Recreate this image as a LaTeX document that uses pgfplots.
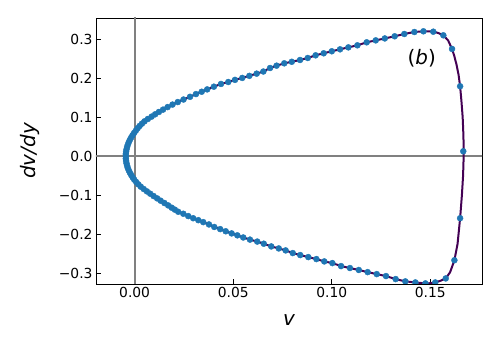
\documentclass[border=0pt]{standalone}
\usepackage{fontspec}
\setmainfont{DejaVu Sans}
\usepackage{pgfplots}
\pgfplotsset{compat=1.18}
\definecolor{curvepurple}{HTML}{440154}
\definecolor{dotblue}{HTML}{1F77B4}

\begin{document}
\begin{tikzpicture}
\begin{axis}[
  scale only axis, width=386bp, height=266bp,
  xmin=-0.0196, xmax=0.1762, ymin=-0.328, ymax=0.3555,
  xtick={0,0.05,0.1,0.15}, xticklabels={0.00,0.05,0.10,0.15},
  ytick={-0.3,-0.2,-0.1,0,0.1,0.2,0.3},
  yticklabels={−0.3,−0.2,−0.1,0.0,0.1,0.2,0.3},
  tick pos=left, tick align=inside, major tick length=5bp,
  tick style={black, line width=0.9bp},
  axis line style={line width=0.9bp},
  ticklabel style={font=\fontsize{13.9}{16}\selectfont},
  xlabel={\itshape v}, ylabel={\itshape dv/dy},
  label style={font=\fontsize{20}{24}\selectfont},
  xlabel style={at={([yshift=-36bp]rel axis cs:0.5,0)}, anchor=center},
  ylabel style={at={([xshift=-66bp]rel axis cs:0,0.5)}, anchor=center},
  clip marker paths=true,
]
\coordinate (ll) at (rel axis cs:0,0);
\coordinate (ur) at (rel axis cs:1,1);

% reference lines
\addplot[color=gray, line width=2bp, mark=none] coordinates {(0,-0.4) (0,0.4)};
\addplot[color=gray, line width=2bp, mark=none] coordinates {(-0.03,0) (0.2,0)};

% solution curve
\addplot[color=curvepurple, line width=2bp, line join=round, mark=none] coordinates {
(0.1669,0) (0.1668,0.05) (0.1664,0.10) (0.1658,0.14) (0.1651,0.180)
(0.1643,0.21) (0.1633,0.235) (0.1622,0.257) (0.1610,0.276) (0.1590,0.298)
(0.1566,0.311) (0.1540,0.317) (0.1515,0.3203) (0.1490,0.3213) (0.1465,0.3213)
(0.1419,0.3195) (0.1368,0.3144) (0.1319,0.3085) (0.1269,0.303) (0.1223,0.298)
(0.1177,0.293) (0.1130,0.2853) (0.1084,0.280) (0.1042,0.275) (0.1000,0.270)
(0.0959,0.2648) (0.0918,0.2596) (0.0878,0.2527) (0.0839,0.2476) (0.0797,0.243)
(0.0759,0.239) (0.0720,0.233) (0.0687,0.227) (0.0653,0.218) (0.0619,0.2125)
(0.0582,0.2068) (0.0546,0.2015) (0.0509,0.1965) (0.0475,0.191) (0.0438,0.186)
(0.0402,0.179) (0.0368,0.172) (0.0340,0.166) (0.0311,0.160) (0.0281,0.153)
(0.0248,0.146) (0.0219,0.1395) (0.0192,0.133) (0.0167,0.1265) (0.0144,0.120)
(0.0123,0.114) (0.0104,0.108) (0.0086,0.102) (0.0067,0.096) (0.0050,0.090)
(0.0037,0.084) (0.0025,0.078) (0.0015,0.072) (0.0006,0.066) (-0.00029,0.060)
(-0.00109,0.054) (-0.00180,0.048) (-0.00244,0.042) (-0.00298,0.036) (-0.00345,0.030)
(-0.00383,0.024) (-0.00412,0.018) (-0.00433,0.012) (-0.00446,0.006) (-0.0045,0)
(-0.00446,-0.006) (-0.00433,-0.012) (-0.00412,-0.018) (-0.00383,-0.024) (-0.00345,-0.030)
(-0.00298,-0.036) (-0.00240,-0.042) (-0.00172,-0.048) (-0.00100,-0.054) (-0.00020,-0.060)
(0.0008,-0.066) (0.0019,-0.072) (0.0031,-0.078) (0.0046,-0.084) (0.0062,-0.090)
(0.0079,-0.096) (0.0096,-0.102) (0.0114,-0.108) (0.0132,-0.114) (0.0151,-0.120)
(0.0170,-0.126) (0.0188,-0.132) (0.0204,-0.137) (0.0221,-0.1424) (0.0247,-0.1475)
(0.0272,-0.1535) (0.0297,-0.1590) (0.0323,-0.1640) (0.0348,-0.1690) (0.0377,-0.1750)
(0.0404,-0.1815) (0.0434,-0.1870) (0.0462,-0.1925) (0.0492,-0.1980) (0.0521,-0.2030)
(0.0551,-0.2085) (0.0585,-0.2140) (0.0622,-0.2190) (0.0655,-0.2245) (0.0693,-0.2315)
(0.0731,-0.2366) (0.0766,-0.2417) (0.0802,-0.2486) (0.0840,-0.2537) (0.0881,-0.2589)
(0.0922,-0.2640) (0.0962,-0.2700) (0.1003,-0.2743) (0.1047,-0.2820) (0.1092,-0.2870)
(0.1137,-0.2920) (0.1182,-0.2975) (0.1228,-0.3026) (0.1275,-0.3077) (0.1324,-0.3154)
(0.1373,-0.3213) (0.1424,-0.3240) (0.1475,-0.3265) (0.1500,-0.3260) (0.1525,-0.3240)
(0.1550,-0.3200) (0.1578,-0.3137) (0.1600,-0.298) (0.1622,-0.267) (0.1638,-0.225)
(0.1651,-0.159) (0.1660,-0.10) (0.1666,-0.05) (0.1669,0)
};

% sampled points
\addplot[only marks, mark=*, color=dotblue, mark size=3bp, mark options={solid, draw=dotblue, fill=dotblue}] coordinates {
(0.1667,0.013) (0.1651,0.180) (0.1610,0.276) (0.1566,0.311) (0.1515,0.3203)
(0.1465,0.3213) (0.1419,0.3195) (0.1368,0.3144) (0.1319,0.3085) (0.1269,0.303)
(0.1223,0.298) (0.1177,0.293) (0.1130,0.2853) (0.1084,0.280) (0.1042,0.275)
(0.1000,0.270) (0.0959,0.2648) (0.0918,0.2596) (0.0878,0.2527) (0.0839,0.2476)
(0.0797,0.243) (0.0759,0.239) (0.0720,0.233) (0.0687,0.227) (0.0653,0.218)
(0.0619,0.2125) (0.0582,0.2068) (0.0546,0.2015) (0.0509,0.1965) (0.0475,0.191)
(0.0438,0.186) (0.0402,0.179) (0.0368,0.172) (0.0340,0.166) (0.0311,0.160)
(0.0281,0.153) (0.0248,0.146) (0.0219,0.1395) (0.0192,0.133) (0.0167,0.1265)
(0.0144,0.120) (0.0123,0.114) (0.0104,0.108) (0.0086,0.102) (0.0067,0.096)
(0.0050,0.090) (0.0037,0.084) (0.0025,0.078) (0.0015,0.072) (0.0006,0.066)
(-0.00029,0.060) (-0.00109,0.054) (-0.00180,0.048) (-0.00244,0.042) (-0.00298,0.036)
(-0.00345,0.030) (-0.00383,0.024) (-0.00412,0.018) (-0.00433,0.012) (-0.00446,0.006)
(-0.0045,0)
(-0.00446,-0.006) (-0.00433,-0.012) (-0.00412,-0.018) (-0.00383,-0.024) (-0.00345,-0.030)
(-0.00298,-0.036) (-0.00240,-0.042) (-0.00172,-0.048) (-0.00100,-0.054) (-0.00020,-0.060)
(0.0008,-0.066) (0.0019,-0.072) (0.0031,-0.078) (0.0046,-0.084) (0.0062,-0.090)
(0.0079,-0.096) (0.0096,-0.102) (0.0114,-0.108) (0.0132,-0.114) (0.0151,-0.120)
(0.0170,-0.126) (0.0188,-0.132) (0.0204,-0.137) (0.0221,-0.1424) (0.0247,-0.1475)
(0.0272,-0.1535) (0.0297,-0.1590) (0.0323,-0.1640) (0.0348,-0.1690) (0.0377,-0.1750)
(0.0404,-0.1815) (0.0434,-0.1870) (0.0462,-0.1925) (0.0492,-0.1980) (0.0521,-0.2030)
(0.0551,-0.2085) (0.0585,-0.2140) (0.0622,-0.2190) (0.0655,-0.2245) (0.0693,-0.2315)
(0.0731,-0.2366) (0.0766,-0.2417) (0.0802,-0.2486) (0.0840,-0.2537) (0.0881,-0.2589)
(0.0922,-0.2640) (0.0962,-0.2700) (0.1003,-0.2743) (0.1047,-0.2820) (0.1092,-0.2870)
(0.1137,-0.2920) (0.1182,-0.2975) (0.1228,-0.3026) (0.1275,-0.3077) (0.1324,-0.3154)
(0.1373,-0.3213) (0.1424,-0.3240) (0.1475,-0.3265) (0.1525,-0.3240) (0.1578,-0.3137)
(0.1622,-0.2670) (0.1651,-0.1590)
};

\node at (axis cs:0.1456,0.252) {\fontsize{20}{24}\selectfont(\textit{b})};
\end{axis}
\pgfresetboundingbox
\path[use as bounding box] ([xshift=-96bp,yshift=-66bp]ll) rectangle ([xshift=18bp,yshift=18bp]ur);
\end{tikzpicture}
\end{document}
